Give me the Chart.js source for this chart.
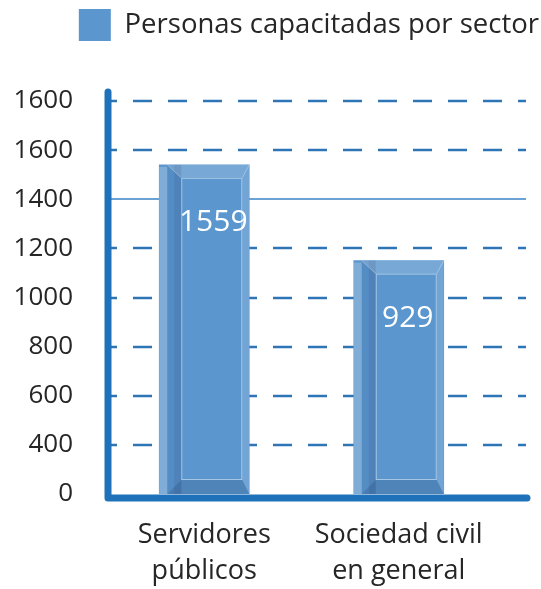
<!DOCTYPE html>
<html><head><meta charset="utf-8">
<script src="https://cdn.jsdelivr.net/npm/chart.js@4.4.0/dist/chart.umd.min.js"></script>
<style>html,body{margin:0;padding:0;background:#fff;}#wrap{width:541px;height:589px;}</style>
</head><body><div id="wrap"><canvas id="c" width="541" height="589"></canvas></div>
<script>
// ---- data ----
const categories = [['Servidores', 'públicos'], ['Sociedad civil', 'en general']];
const seriesName = 'Personas capacitadas por sector';
const barValues = [1340, 950];          // plotted bar heights (as drawn in the picture)
const valueLabels = ['1559', '929'];    // labels printed on the bars
const yTickLabels = ['0', '400', '600', '800', '1000', '1200', '1400', '1600', '1600'];
const yMax = 1600;
const yStep = 200;
const solidGridIndex = 6;

const AXIS_BLUE = '#1F72BA';
const GRID_BLUE = '#2E75B6';
const BAR_BLUE = '#5B97CE';
const TEXT = '#262626';

const gridPlugin = {
  id: 'extGrid',
  beforeDatasetsDraw(chart) {
    const {ctx, chartArea: a, scales: {y}} = chart;
    ctx.save();
    y.ticks.forEach((t, i) => {
      if (i === 0) return;
      const py = Math.round(y.getPixelForValue(t.value));
      ctx.beginPath();
      if (i === solidGridIndex) {
        ctx.setLineDash([]);
        ctx.lineWidth = 1.3;
        ctx.strokeStyle = '#3B82C4';
        ctx.moveTo(a.left, py); ctx.lineTo(a.right + 30, py);
      } else {
        ctx.setLineDash([19, 16]);
        ctx.lineDashOffset = 9;
        ctx.lineWidth = 2.5;
        ctx.strokeStyle = GRID_BLUE;
        ctx.moveTo(a.left, py); ctx.lineTo(a.right + 30, py);
      }
      ctx.stroke();
    });
    ctx.restore();
  }
};

const decoPlugin = {
  id: 'deco',
  afterDatasetsDraw(chart) {
    const {ctx, chartArea: a} = chart;
    const meta = chart.getDatasetMeta(0);
    ctx.save();
    meta.data.forEach((el, i) => {
      const {x, y, base, width} = el.getProps(['x', 'y', 'base', 'width'], true);
      const L = x - width / 2, R = x + width / 2, T = y, B = base;
      const fl = L + 22, fr = R - 7, ft = T + 13, fb = B - 14;
      ctx.fillStyle = 'rgba(255,255,255,0.22)';
      ctx.fillRect(L, T + 2, 8, B - T - 2);
      ctx.fillStyle = 'rgba(30,60,110,0.10)';
      ctx.fillRect(L + 8, T, 7, B - T);
      ctx.fillStyle = 'rgba(30,60,110,0.22)';
      ctx.fillRect(L + 15, T, 7, B - T);
      ctx.fillStyle = 'rgba(255,255,255,0.18)';
      ctx.beginPath(); ctx.moveTo(L + 8, T); ctx.lineTo(R, T); ctx.lineTo(fr, ft); ctx.lineTo(fl, ft); ctx.closePath(); ctx.fill();
      ctx.fillStyle = 'rgba(255,255,255,0.14)';
      ctx.beginPath(); ctx.moveTo(R, T); ctx.lineTo(R, B); ctx.lineTo(fr, fb); ctx.lineTo(fr, ft); ctx.closePath(); ctx.fill();
      ctx.fillStyle = 'rgba(20,50,90,0.18)';
      ctx.beginPath(); ctx.moveTo(fl, fb); ctx.lineTo(fr, fb); ctx.lineTo(R, B); ctx.lineTo(L + 8, B); ctx.closePath(); ctx.fill();
      ctx.strokeStyle = 'rgba(255,255,255,0.45)';
      ctx.lineWidth = 1;
      ctx.strokeRect(fl + 0.5, ft + 0.5, fr - fl - 1, fb - ft - 1);
      ctx.strokeStyle = 'rgba(255,255,255,0.3)';
      ctx.beginPath();
      ctx.moveTo(L + 8, T); ctx.lineTo(fl, ft);
      ctx.moveTo(R, T); ctx.lineTo(fr, ft);
      ctx.stroke();
      ctx.fillStyle = '#FFFFFF';
      ctx.font = '30px "Open Sans"';
      ctx.textAlign = 'center';
      ctx.textBaseline = 'middle';
      ctx.fillText(valueLabels[i], x + 9, y + 58);
    });
    ctx.strokeStyle = AXIS_BLUE;
    ctx.lineWidth = 7;
    ctx.lineCap = 'round';
    ctx.lineJoin = 'round';
    ctx.setLineDash([]);
    ctx.beginPath();
    const ax = a.left + 1, ay = a.bottom + 4;
    ctx.moveTo(ax, a.top - 9);
    ctx.lineTo(ax, ay);
    ctx.lineTo(a.right + 31, ay);
    ctx.stroke();
    ctx.restore();
  }
};

new Chart(document.getElementById('c'), {
  type: 'bar',
  data: {
    labels: categories,
    datasets: [{
      label: seriesName,
      data: barValues,
      backgroundColor: BAR_BLUE,
      borderWidth: 0,
      barThickness: 90
    }]
  },
  options: {
    responsive: false,
    devicePixelRatio: 1,
    animation: false,
    layout: {padding: {top: 7}},
    plugins: {
      legend: {
        display: true,
        position: 'top',
        align: 'end',
        labels: {
          font: {family: 'Open Sans', size: 27.5},
          color: TEXT,
          boxWidth: 32,
          boxHeight: 32,
          padding: 2
        }
      },
      subtitle: {
        display: true,
        text: '',
        weight: 500,
        font: {size: 10, lineHeight: 1},
        padding: {top: 0, bottom: 40}
      },
      tooltip: {enabled: false}
    },
    scales: {
      x: {
        grid: {display: false, drawTicks: false},
        border: {display: false},
        ticks: {
          font: {family: 'Open Sans', size: 27, lineHeight: 1.35},
          color: TEXT,
          padding: 23,
          maxRotation: 0
        },
        afterFit(s) { s.height = 95; }
      },
      y: {
        min: 0,
        max: yMax,
        grid: {display: false, drawTicks: false},
        border: {display: false},
        ticks: {
          stepSize: yStep,
          font: {family: 'Open Sans', size: 26},
          color: TEXT,
          padding: 34,
          callback: (v, i) => yTickLabels[i]
        },
        afterFit(s) { s.width = 107; }
      },
      y2: {
        type: 'linear',
        position: 'right',
        display: true,
        grid: {display: false, drawTicks: false},
        border: {display: false},
        ticks: {display: false},
        afterFit(s) { s.width = 45; }
      }
    }
  },
  plugins: [gridPlugin, decoPlugin]
});
</script>
</body></html>
